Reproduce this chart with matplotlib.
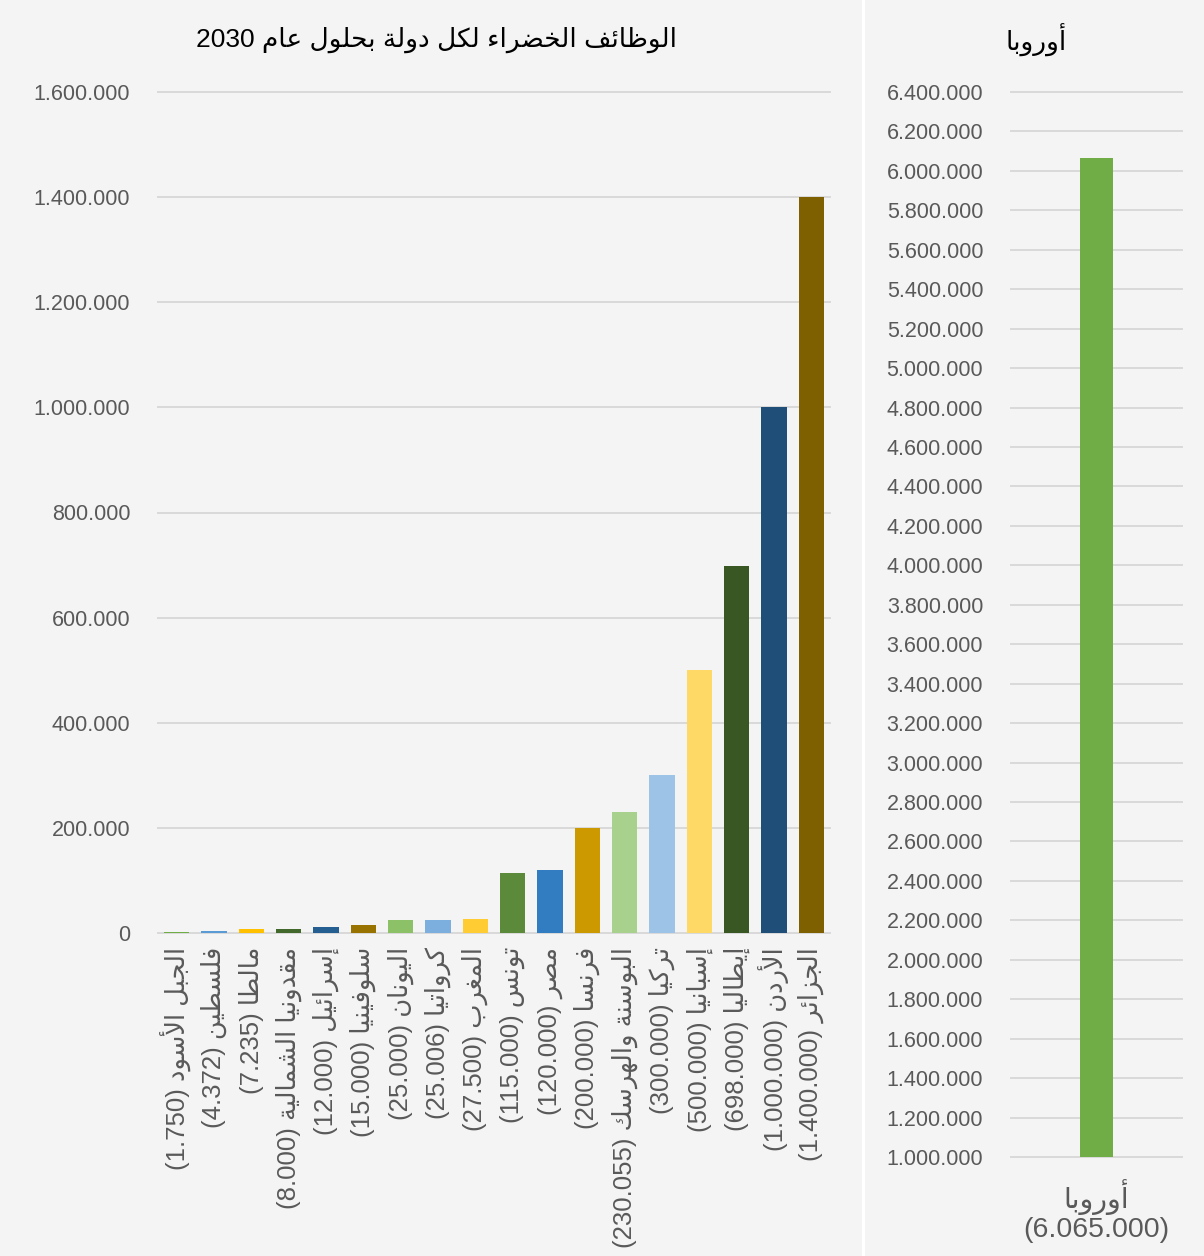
import re

import matplotlib
matplotlib.use("Agg")
import matplotlib.pyplot as plt
from matplotlib.lines import Line2D
from matplotlib.ticker import FuncFormatter, MultipleLocator


# Green jobs per country by 2030
COUNTRIES = [
    "الجبل الأسود", "فلسطين", "مالطا", "مقدونيا الشمالية", "إسرائيل",
    "سلوفينيا", "اليونان", "كرواتيا", "المغرب", "تونس", "مصر", "فرنسا",
    "البوسنة والهرسك", "تركيا", "إسبانيا", "إيطاليا", "الأردن", "الجزائر",
]
JOBS = [
    1750, 4372, 7235, 8000, 12000, 15000, 25000, 25006, 27500, 115000,
    120000, 200000, 230055, 300000, 500000, 698000, 1000000, 1400000,
]
EUROPE_NAME = "أوروبا"
EUROPE_JOBS = 6065000

TITLE_LEFT = "الوظائف الخضراء لكل دولة بحلول عام 2030"
TITLE_RIGHT = "أوروبا"

BAR_COLORS = [
    "#70ad47", "#5b9bd5", "#ffc000", "#43682b", "#255e91", "#997300",
    "#8cc168", "#7cafdd", "#ffcd33", "#5b8a3b", "#327dc2", "#cc9a00",
    "#a9d18e", "#9dc3e6", "#ffd966", "#385723", "#1f4e79", "#7f6000",
]
EUROPE_COLOR = "#70ad47"
BG = "#f4f4f4"
GRID = "#d9d9d9"
TXT = "#595959"

# matplotlib has no Arabic shaping, so map letters to presentation forms
# (isolated codepoint, number of forms: 1 none, 2 right-joining, 4 dual)
_FORMS = {
    "ء": (0xFE80, 1), "آ": (0xFE81, 2), "أ": (0xFE83, 2), "ؤ": (0xFE85, 2),
    "إ": (0xFE87, 2), "ئ": (0xFE89, 4), "ا": (0xFE8D, 2), "ب": (0xFE8F, 4),
    "ة": (0xFE93, 2), "ت": (0xFE95, 4), "ث": (0xFE99, 4), "ج": (0xFE9D, 4),
    "ح": (0xFEA1, 4), "خ": (0xFEA5, 4), "د": (0xFEA9, 2), "ذ": (0xFEAB, 2),
    "ر": (0xFEAD, 2), "ز": (0xFEAF, 2), "س": (0xFEB1, 4), "ش": (0xFEB5, 4),
    "ص": (0xFEB9, 4), "ض": (0xFEBD, 4), "ط": (0xFEC1, 4), "ظ": (0xFEC5, 4),
    "ع": (0xFEC9, 4), "غ": (0xFECD, 4), "ف": (0xFED1, 4), "ق": (0xFED5, 4),
    "ك": (0xFED9, 4), "ل": (0xFEDD, 4), "م": (0xFEE1, 4), "ن": (0xFEE5, 4),
    "ه": (0xFEE9, 4), "و": (0xFEED, 2), "ى": (0xFEEF, 2), "ي": (0xFEF1, 4),
}
_LAM_ALEF = {"آ": 0xFEF5, "أ": 0xFEF7, "إ": 0xFEF9, "ا": 0xFEFB}


def _joins_next(item):
    c = item[0]
    return c in _FORMS and _FORMS[c][1] == 4


def _joins_prev(item):
    c = item[0]
    return c == "LA" or (c in _FORMS and _FORMS[c][1] >= 2)


def shape(text):
    items = []
    i = 0
    while i < len(text):
        if text[i] == "ل" and i + 1 < len(text) and text[i + 1] in _LAM_ALEF:
            items.append(("LA", text[i + 1]))
            i += 2
        else:
            items.append((text[i], None))
            i += 1

    out = []
    for k, item in enumerate(items):
        c = item[0]
        jp = k > 0 and _joins_next(items[k - 1])
        if c == "LA":
            out.append(chr(_LAM_ALEF[item[1]] + int(jp)))
            continue
        if c not in _FORMS:
            out.append(c)
            continue
        base, n = _FORMS[c]
        if n == 1:
            out.append(chr(base))
        elif n == 2:
            out.append(chr(base + int(jp)))
        else:
            jn = k + 1 < len(items) and _joins_prev(items[k + 1])
            out.append(chr(base + [0, 2, 1, 3][int(jp) * 2 + int(jn)]))
    return "".join(out)


def ar(text):
    lines = []
    for line in text.split("\n"):
        tokens = re.findall(r"[0-9.,]+|.", shape(line))
        mirror = {"(": ")", ")": "("}
        lines.append("".join(mirror.get(t, t) for t in reversed(tokens)))
    return "\n".join(lines)


def fmt(v):
    return f"{int(round(v)):,}".replace(",", ".")


plt.rcParams["font.family"] = ["Liberation Sans", "DejaVu Sans"]

W, H = 1204, 1256
fig = plt.figure(figsize=(W / 100, H / 100), dpi=100, facecolor=BG)

# left panel: countries
ax = fig.add_axes([158 / W, 1 - 933 / H, 672 / W, 841 / H])
ax.set_facecolor("none")
x = list(range(len(COUNTRIES)))
ax.bar(x, JOBS, width=0.67, color=BAR_COLORS, zorder=2)
ax.set_xlim(-0.5, len(COUNTRIES) - 0.5)
ax.set_ylim(0, 1600000)
ax.yaxis.set_major_locator(MultipleLocator(200000))
ax.yaxis.set_major_formatter(FuncFormatter(lambda v, _: fmt(v)))
ax.set_xticks(x)
ax.set_xticklabels([ar(f"{c} ({fmt(v)})") for c, v in zip(COUNTRIES, JOBS)],
                   rotation=90, ha="center", va="top", fontsize=18.5, color=TXT)
ax.tick_params(axis="x", length=0, pad=10)
ax.tick_params(axis="y", length=0, pad=20, labelsize=15.5, labelcolor=TXT)
ax.grid(axis="y", color=GRID, lw=1.4, zorder=0)
ax.set_axisbelow(True)
for t in ax.yaxis.get_major_ticks():
    t.gridline.set_clip_on(False)
for s in ax.spines.values():
    s.set_visible(False)

# right panel: Europe total
ax2 = fig.add_axes([1011 / W, 1 - 1157 / H, 171 / W, 1065 / H])
ax2.set_facecolor("none")
ax2.bar([0], [EUROPE_JOBS], width=0.19, color=EUROPE_COLOR, zorder=2)
ax2.set_xlim(-0.5, 0.5)
ax2.set_ylim(1000000, 6400000)
ax2.yaxis.set_major_locator(MultipleLocator(200000))
ax2.yaxis.set_major_formatter(FuncFormatter(lambda v, _: fmt(v)))
ax2.set_xticks([0])
ax2.set_xticklabels([ar(f"{EUROPE_NAME}\n({fmt(EUROPE_JOBS)})")],
                    fontsize=20.5, color=TXT, linespacing=1.1)
ax2.tick_params(axis="x", length=0, pad=16)
ax2.tick_params(axis="y", length=0, pad=20, labelsize=15.5, labelcolor=TXT)
ax2.grid(axis="y", color=GRID, lw=1.4, zorder=0)
ax2.set_axisbelow(True)
for t in ax2.yaxis.get_major_ticks():
    t.gridline.set_clip_on(False)
for s in ax2.spines.values():
    s.set_visible(False)

fig.text(436 / W, 1 - 40 / H, ar(TITLE_LEFT), ha="center", va="center",
         fontsize=19, color="black")
fig.text(1036 / W, 1 - 40 / H, ar(TITLE_RIGHT), ha="center", va="center",
         fontsize=19, color="black")

# white divider between the two panels
fig.add_artist(Line2D([863 / W, 863 / W], [0, 1], color="white", lw=2.2,
                      transform=fig.transFigure))

fig.savefig("out.png", dpi=100, facecolor=BG)
